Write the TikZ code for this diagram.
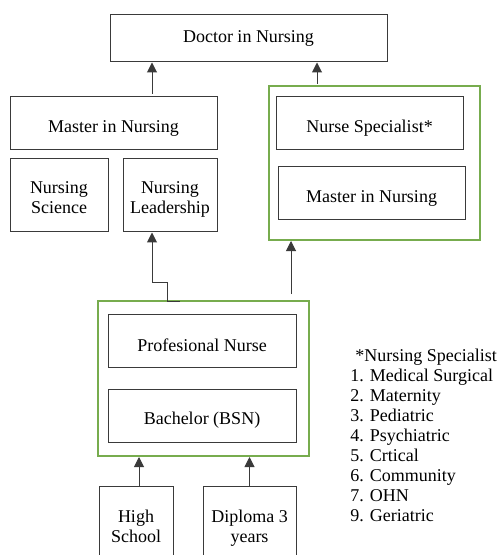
\documentclass[tikz,border=0pt]{standalone}
\usepackage{fontspec}
\setmainfont{Liberation Serif}
\usetikzlibrary{arrows.meta,positioning}
\definecolor{boxgreen}{HTML}{77AC4E}
\definecolor{linegray}{HTML}{3A3A3A}
\newcommand{\lowstrut}{\rule{0pt}{11pt}}

\begin{document}
\begin{tikzpicture}[
    x=0.5pt, y=-0.5pt,
    >={Triangle[length=5pt,width=5pt]},
    font=\fontsize{9}{10}\selectfont,
    level/.style={
		rectangle,
		draw=linegray,
		line width=0.5pt,
		text centered,
		align=center,
		inner sep=0pt,
		minimum height=26.5pt,
		fill=white
	},
	group/.style={
		rectangle,
		draw=boxgreen,
		line width=1pt,
		inner sep=0pt
	},
	link/.style={
		draw=linegray,
		line width=0.5pt,
		->
	}
  ]
  \useasboundingbox (0,0) rectangle (498,555);
  \clip (0,0) rectangle (498,555);

  % green groups first, so they stay behind
  \node [group, minimum width=105.5pt, minimum height=77pt] (specbox) at (374.5,163) {};
  \node [group, minimum width=105.5pt, minimum height=77.5pt] (bsnbox) at (203.5,378.5) {};

  % top level
  \node [level, minimum width=138.5pt, minimum height=23.5pt] (doctor) at (248.5,38.5) {Doctor in Nursing};

  % left branch
  \node [level, minimum width=103.5pt] (master1) at (113.5,123.5) {\lowstrut Master in Nursing};
  \node [level, minimum width=49pt, minimum height=36.5pt,
         below=4pt of master1.south west, anchor=north west] (science) {\lowstrut Nursing\\Science\strut};
  \node [level, minimum width=47pt, minimum height=36.5pt,
         below=4pt of master1.south east, anchor=north east] (leader) {\lowstrut Nursing\\Leadership\strut};

  % right branch
  \node [level, minimum width=93.5pt] (specialist) at (369.5,123.5) {\lowstrut Nurse Specialist*};
  \node [level, minimum width=93.5pt, below=8pt of specialist, xshift=1pt] (master2) {\lowstrut Master in Nursing};

  % bachelor level
  \node [level, minimum width=94pt] (profnurse) at (202,340.5) {\lowstrut Profesional Nurse};
  \node [level, minimum width=94pt, below=10.5pt of profnurse] (bachelor) {\lowstrut Bachelor (BSN)};

  % entry
  \node [level, minimum width=37pt, minimum height=42pt] (school) at (136,528) {\strut High\\School\strut};
  \node [level, minimum width=46.5pt, minimum height=42pt] (diploma) at (249.5,528) {\strut Diploma 3\\years\strut};

  % list of specialities
  \node [align=left, anchor=north west, inner sep=0pt] (legend) at (350,349)
 {%
  \hspace{2.5pt}*Nursing Specialist\\
  1. Medical Surgical\\
  2. Maternity\\
  3. Pediatric\\
  4. Psychiatric\\
  5. Crtical\\
  6. Community\\
  7. OHN\\
  9. Geriatric
 };

  % arrows
  \coordinate (up1) at (152,94);
  \coordinate (up2) at (317,84);
  \coordinate (elbow) at (180,301);
  \coordinate (up4) at (291,294);
  \coordinate (up5) at (139,486);

  \draw [link] (up1) -- (up1 |- doctor.south);
  \draw [link] (up2) -- (up2 |- doctor.south);
  \draw [link] (elbow) -- ++(-13,0) -- ++(0,-19) -- ++(-15,0) coordinate (bend) -- (bend |- leader.south);
  \draw [link] (up4) -- (up4 |- specbox.south);
  \draw [link] (up5) -- (up5 |- bsnbox.south);
  \draw [link] (diploma.north) -- (diploma.north |- bsnbox.south);

\end{tikzpicture}
\end{document}
